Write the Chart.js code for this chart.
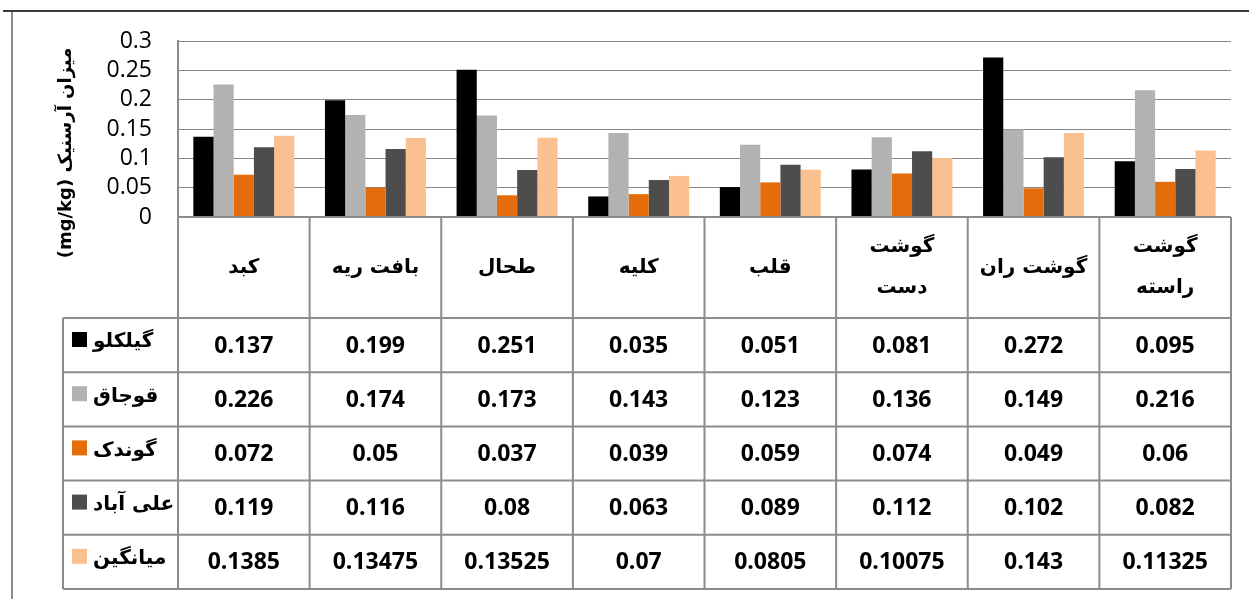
<!DOCTYPE html>
<html>
<head>
<meta charset="utf-8">
<script src="https://cdn.jsdelivr.net/npm/chart.js@4"></script>
<style>
  html, body { margin: 0; padding: 0; background: #fff; }
</style>
</head>
<body>
<canvas id="chart" width="1249" height="599"></canvas>
<script>
// categories (multi-line where the header wraps)
const categories = [["کبد"], ["بافت ریه"], ["طحال"], ["کلیه"], ["قلب"], ["گوشت", "دست"], ["گوشت ران"], ["گوشت", "راسته"]];
const seriesNames = ["گیلکلو", "قوجاق", "گوندک", "علی آباد", "میانگین"];
const gilakloo = [0.137, 0.199, 0.251, 0.035, 0.051, 0.081, 0.272, 0.095];
const ghojagh = [0.226, 0.174, 0.173, 0.143, 0.123, 0.136, 0.149, 0.216];
const gondak = [0.072, 0.05, 0.037, 0.039, 0.059, 0.074, 0.049, 0.06];
const aliabad = [0.119, 0.116, 0.08, 0.063, 0.089, 0.112, 0.102, 0.082];
const average = [0.1385, 0.13475, 0.13525, 0.07, 0.0805, 0.10075, 0.143, 0.11325];
const yTicks = [0, 0.05, 0.1, 0.15, 0.2, 0.25, 0.3];
const yTitle = "میزان آرسنیک (mg/kg)";

const seriesData = [gilakloo, ghojagh, gondak, aliabad, average];
const seriesColors = ["#000000", "#b2b2b2", "#e46c0a", "#4d4d4d", "#fac090"];
const lineColor = "#8c8c8c";
const faFont = "'DejaVu Sans', sans-serif";
const numFont = "'Open Sans', sans-serif";

// draws the data table under the plot, the y title and the outer frame
const tablePlugin = {
  id: "dataTable",
  afterDraw(chart) {
    const { ctx, chartArea } = chart;
    const xs = chart.scales.x;
    const top = chartArea.bottom;
    const headH = 101;
    const rowH = 54.2;
    const legendLeft = 63;
    const n = categories.length;
    const tableBottom = top + headH + rowH * seriesNames.length;

    const bounds = [];
    for (let i = 0; i <= n; i++) {
      if (i === 0) bounds.push(chartArea.left);
      else if (i === n) bounds.push(chartArea.right);
      else bounds.push((xs.getPixelForValue(i - 1) + xs.getPixelForValue(i)) / 2);
    }

    ctx.save();
    ctx.strokeStyle = lineColor;
    ctx.lineWidth = 2;
    ctx.beginPath();
    ctx.moveTo(chartArea.left, top);
    ctx.lineTo(chartArea.right, top);
    for (let r = 0; r <= seriesNames.length; r++) {
      const y = top + headH + rowH * r;
      ctx.moveTo(legendLeft, y);
      ctx.lineTo(chartArea.right, y);
    }
    bounds.forEach(b => {
      ctx.moveTo(b, top);
      ctx.lineTo(b, tableBottom);
    });
    ctx.moveTo(legendLeft, top + headH);
    ctx.lineTo(legendLeft, tableBottom);
    ctx.stroke();

    // header labels
    ctx.fillStyle = "#000";
    ctx.direction = "rtl";
    ctx.textAlign = "center";
    ctx.textBaseline = "middle";
    ctx.font = "bold 20px " + faFont;
    categories.forEach((lines, i) => {
      const cx = (bounds[i] + bounds[i + 1]) / 2;
      const cy = top + headH / 2;
      const step = 41;
      lines.forEach((t, k) => {
        ctx.fillText(t, cx, cy + (k - (lines.length - 1) / 2) * step);
      });
    });

    // rows
    seriesNames.forEach((name, r) => {
      const rowTop = top + headH + rowH * r;
      ctx.fillStyle = seriesColors[r];
      ctx.fillRect(72, rowTop + 14, 15, 15);
      ctx.fillStyle = "#000";
      ctx.direction = "rtl";
      ctx.textAlign = "left";
      ctx.font = "bold 20px " + faFont;
      ctx.fillText(name, 93, rowTop + rowH / 2 - 3);
      ctx.direction = "ltr";
      ctx.textAlign = "center";
      ctx.font = "bold 23px " + numFont;
      seriesData[r].forEach((v, i) => {
        ctx.fillText(String(v), (bounds[i] + bounds[i + 1]) / 2, rowTop + rowH / 2 + 1);
      });
    });

    // y title
    ctx.save();
    ctx.translate(66, 153);
    ctx.rotate(-Math.PI / 2);
    ctx.direction = "rtl";
    ctx.textAlign = "center";
    ctx.font = "bold 18px " + faFont;
    ctx.fillText(yTitle, 0, 0);
    ctx.restore();

    // outer frame
    ctx.lineWidth = 2;
    ctx.strokeStyle = lineColor;
    ctx.beginPath();
    ctx.moveTo(12, 11);
    ctx.lineTo(12, 599);
    ctx.stroke();
    ctx.strokeStyle = "#3a3a3a";
    ctx.beginPath();
    ctx.moveTo(3, 11);
    ctx.lineTo(1249, 11);
    ctx.stroke();
    ctx.restore();
  }
};

new Chart(document.getElementById("chart"), {
  type: "bar",
  data: {
    labels: categories,
    datasets: seriesNames.map((name, i) => ({
      label: name,
      data: seriesData[i],
      backgroundColor: seriesColors[i],
      borderWidth: 0,
      barPercentage: 1,
      categoryPercentage: 0.767
    }))
  },
  options: {
    responsive: false,
    animation: false,
    layout: { padding: { left: 0, top: 41, right: 18, bottom: 382 } },
    plugins: {
      legend: { display: false },
      tooltip: { enabled: false }
    },
    scales: {
      x: { display: false },
      y: {
        min: 0,
        max: 0.3,
        afterFit: s => { s.width = 178; },
        afterBuildTicks: s => { s.ticks = yTicks.map(v => ({ value: v })); },
        ticks: {
          autoSkip: false,
          padding: 26,
          color: "#000",
          font: { family: numFont, size: 23 },
          callback: v => String(v)
        },
        grid: { color: "#868686", lineWidth: 1, drawTicks: false },
        border: { display: true, color: lineColor, width: 2 }
      }
    }
  },
  plugins: [tablePlugin]
});
</script>
</body>
</html>
